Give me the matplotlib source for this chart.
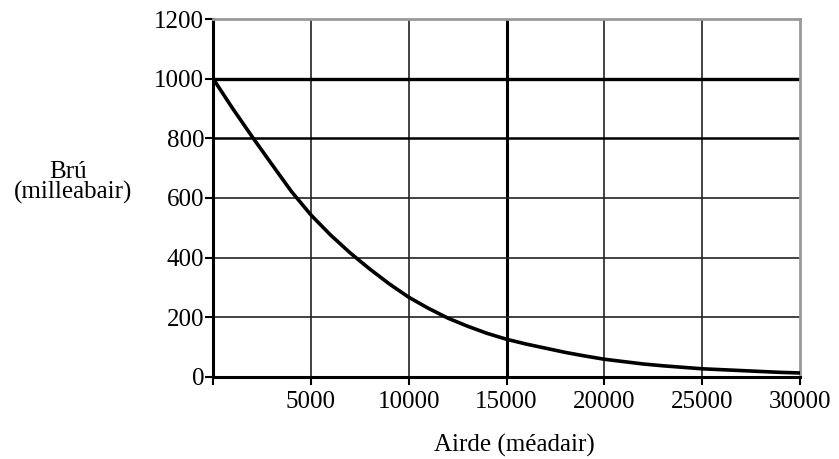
import matplotlib.pyplot as plt

# altitude (m) and pressure (millibar)
airde = [0, 1000, 2000, 3000, 4000, 5000, 6000, 7000, 8000, 9000, 10000,
         11000, 12000, 13000, 14000, 15000, 16000, 17000, 18000, 19000, 20000,
         21000, 22000, 23000, 24000, 25000, 26000, 27000, 28000, 29000, 30000]
bru = [1000, 900, 805, 713, 622, 543, 476, 416, 362, 312, 267,
       230, 197, 170, 146, 126, 110, 96, 82, 70, 59,
       51, 43, 37, 32, 27, 24, 21, 18, 15, 13]

xticks = [5000, 10000, 15000, 20000, 25000, 30000]
yticks = [0, 200, 400, 600, 800, 1000, 1200]

plt.rcParams['font.family'] = ['Liberation Serif', 'DejaVu Serif']
plt.rcParams['font.size'] = 18

fig = plt.figure(figsize=(8.39, 4.59), dpi=100)
ax = fig.add_axes([0.254, 0.179, 0.6995, 0.7795])

# grid, with the heavier lines where the original has them
for v in [5000, 10000, 20000, 25000]:
    ax.axvline(v, color='#222222', lw=1.2, zorder=1)
ax.axvline(15000, color='black', lw=2.2, zorder=1)
for v in [200, 400, 600]:
    ax.axhline(v, color='#222222', lw=1.2, zorder=1)
ax.axhline(800, color='black', lw=1.8, zorder=1)
ax.axhline(1000, color='black', lw=2.4, zorder=1)

ax.plot(airde, bru, color='black', lw=2.6, zorder=3)

ax.set_xlim(0, 30000)
ax.set_ylim(0, 1200)
ax.set_xticks([0] + xticks)
ax.set_xticklabels([''] + [str(v) for v in xticks])
ax.set_yticks(yticks)
ax.tick_params(axis='both', direction='out', length=6, width=1.5)
ax.tick_params(axis='y', pad=0.5)
ax.tick_params(axis='x', pad=4)

ax.spines['left'].set_linewidth(2.2)
ax.spines['bottom'].set_linewidth(2.2)
ax.spines['top'].set_color('#999999')
ax.spines['top'].set_linewidth(2)
ax.spines['right'].set_color('#999999')
ax.spines['right'].set_linewidth(2)

fig.text(68 / 839, 1 - 178 / 459, 'Brú', ha='center', va='baseline')
fig.text(73 / 839, 1 - 199 / 459, '(milleabair)', ha='center', va='baseline')
fig.text(514 / 839, 1 - 452 / 459, 'Airde (méadair)', ha='center', va='baseline')

fig.savefig('out.png', dpi=100)
